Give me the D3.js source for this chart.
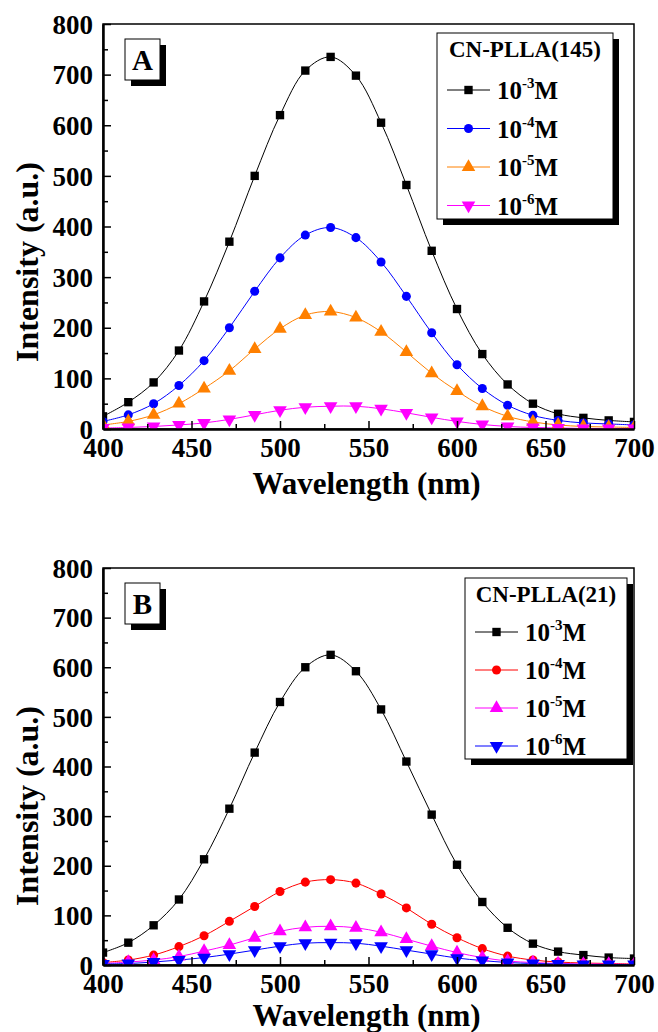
<!DOCTYPE html>
<html>
<head>
<meta charset="utf-8">
<script src="https://cdn.jsdelivr.net/npm/d3@7"></script>
<style>
  body { margin: 0; background: #fff; }
</style>
</head>
<body>
<svg id="chart" width="658" height="1032"></svg>
<script>
// wavelengths of the measured points (nm)
var wavelengths = [400, 414.3, 428.6, 442.9, 457.1, 471.4, 485.7, 500, 514.3, 528.6, 542.9,
  557.1, 571.4, 585.7, 600, 614.3, 628.6, 642.9, 657.1, 671.4, 685.7, 700];

// panel A : CN-PLLA(145)
var a3 = [25, 53, 92, 155, 252, 370, 500, 620, 708, 735, 698, 605, 482, 352, 237, 148, 88, 50, 30, 22, 17, 14];
var a4 = [15, 28, 50, 86, 135, 200, 272, 338, 383, 398, 378, 330, 262, 190, 127, 80, 47, 27, 17, 12, 10, 8];
var a5 = [8, 15, 28, 50, 80, 115, 158, 198, 225, 232, 220, 192, 152, 110, 75, 45, 25, 14, 8, 5, 4, 3];
var a6 = [2, 3, 5, 8, 12, 19, 28, 37, 43, 45, 45, 40, 32, 23, 15, 9, 5, 3, 2, 1, 1, 1];

// panel B : CN-PLLA(21)
var b3 = [25, 45, 80, 132, 213, 315, 428, 530, 600, 625, 592, 515, 410, 303, 202, 127, 75, 43, 27, 20, 15, 13];
var b4 = [5, 10, 20, 37, 59, 88, 118, 148, 167, 172, 165, 143, 115, 82, 55, 33, 18, 10, 6, 4, 3, 2];
var b5 = [3, 6, 10, 17, 28, 40, 55, 68, 76, 78, 75, 66, 52, 38, 25, 15, 8, 5, 3, 2, 2, 1];
var b6 = [2, 3, 6, 10, 15, 22, 30, 38, 44, 45, 44, 38, 30, 22, 14, 9, 5, 3, 2, 1, 1, 1];

var xTicks = [400, 450, 500, 550, 600, 650, 700];
var yTicks = [0, 100, 200, 300, 400, 500, 600, 700, 800];
var legendLabels = ['-3', '-4', '-5', '-6'];

var FONT = "'Liberation Serif', 'Times New Roman', Times, serif";

var panels = [
  { tag: 'A', title: 'CN-PLLA(145)', top: 24, bottom: 429, titleGap: 65,
    series: [
      { data: a3, color: '#000000', marker: 'square' },
      { data: a4, color: '#0000ff', marker: 'circle' },
      { data: a5, color: '#ff8000', marker: 'triangle' },
      { data: a6, color: '#ff00ff', marker: 'triangleDown' }
    ],
    legend: { x: 437, y: 33, w: 176, h: 186, first: 57, step: 38.5 } },
  { tag: 'B', title: 'CN-PLLA(21)', top: 568, bottom: 965, titleGap: 61,
    series: [
      { data: b3, color: '#000000', marker: 'square' },
      { data: b4, color: '#ff0000', marker: 'circle' },
      { data: b5, color: '#ff00ff', marker: 'triangle' },
      { data: b6, color: '#0000ff', marker: 'triangleDown' }
    ],
    legend: { x: 465, y: 578, w: 162, h: 181, first: 54, step: 38 } }
];

var left = 103, right = 634;
var svg = d3.select('#chart');

var symbols = {
  square: d3.symbol().type(d3.symbolSquare).size(70),
  circle: d3.symbol().type(d3.symbolCircle).size(64),
  triangle: d3.symbol().type(d3.symbolTriangle).size(80),
  triangleDown: d3.symbol().type(d3.symbolTriangle).size(80)
};

var drawMarker = function(g, kind, color, x, y) {
  g.append('path')
    .attr('d', symbols[kind]())
    .attr('transform', 'translate(' + x + ',' + y + ')' + (kind === 'triangleDown' ? ' rotate(180)' : ''))
    .attr('fill', color);
};

var shadowBox = function(g, x, y, w, h, off) {
  g.append('rect').attr('x', x + off).attr('y', y + off).attr('width', w).attr('height', h).attr('fill', '#000');
  g.append('rect').attr('x', x).attr('y', y).attr('width', w).attr('height', h)
    .attr('fill', '#fff').attr('stroke', '#000').attr('stroke-width', 1);
};

var label = function(g) {
  return g.append('text').attr('font-family', FONT).attr('font-weight', 'bold').attr('fill', '#000');
};

panels.forEach(function(p) {
  var x = d3.scaleLinear().domain([400, 700]).range([left, right]);
  var y = d3.scaleLinear().domain([0, 800]).range([p.bottom, p.top]);
  var g = svg.append('g');

  // clip so curves stay in the frame
  var clipId = 'clip' + p.tag;
  g.append('clipPath').attr('id', clipId).append('rect')
    .attr('x', left).attr('y', p.top).attr('width', right - left).attr('height', p.bottom - p.top);

  // frame
  g.append('rect').attr('x', left).attr('y', p.top).attr('width', right - left).attr('height', p.bottom - p.top)
    .attr('fill', 'none').attr('stroke', '#000').attr('stroke-width', 1.5);

  // curves and markers
  var line = d3.line()
    .x(function(d, i) { return x(wavelengths[i]); })
    .y(function(d) { return y(d); })
    .curve(d3.curveCatmullRom.alpha(0.5));

  var plot = g.append('g').attr('clip-path', 'url(#' + clipId + ')');
  p.series.forEach(function(s) {
    plot.append('path').datum(s.data).attr('d', line)
      .attr('fill', 'none').attr('stroke', s.color).attr('stroke-width', 1);
  });
  p.series.forEach(function(s) {
    s.data.forEach(function(v, i) {
      drawMarker(plot, s.marker, s.color, x(wavelengths[i]), y(v));
    });
  });

  // axes with inward ticks
  var xAxis = d3.axisBottom(x).tickValues(d3.range(400, 701, 25)).tickSize(-7).tickSizeOuter(0)
    .tickFormat(function(d) { return xTicks.indexOf(d) >= 0 ? d : ''; });
  var gx = g.append('g').attr('transform', 'translate(0,' + p.bottom + ')').call(xAxis);
  gx.attr('font-family', FONT).attr('font-weight', 'bold');
  gx.selectAll('.tick line').attr('stroke-width', 1.5)
    .attr('y2', function(d) { return xTicks.indexOf(d) >= 0 ? -8 : -5; });
  gx.selectAll('.tick text').attr('font-size', 27).attr('fill', '#000').attr('dy', '0.72em').attr('y', 9);
  gx.select('.domain').attr('stroke-width', 2.5);

  var yAxis = d3.axisLeft(y).tickValues(d3.range(0, 801, 50)).tickSize(-7).tickSizeOuter(0)
    .tickFormat(function(d) { return yTicks.indexOf(d) >= 0 ? d : ''; });
  var gy = g.append('g').attr('transform', 'translate(' + left + ',0)').call(yAxis);
  gy.attr('font-family', FONT).attr('font-weight', 'bold');
  gy.selectAll('.tick line').attr('stroke-width', 1.5)
    .attr('x2', function(d) { return yTicks.indexOf(d) >= 0 ? 8 : 5; });
  gy.selectAll('.tick text').attr('font-size', 27).attr('fill', '#000').attr('x', -10).attr('dy', '0.34em');
  gy.select('.domain').attr('stroke-width', 2.5);

  // axis titles
  label(g).attr('x', (left + right) / 2 - 2).attr('y', p.bottom + p.titleGap)
    .attr('text-anchor', 'middle').attr('font-size', 31).text('Wavelength (nm)');
  label(g).attr('transform', 'translate(38,' + (p.top + 238) + ') rotate(-90)')
    .attr('text-anchor', 'middle').attr('font-size', 32).text('Intensity (a.u.)');

  // panel tag
  shadowBox(g, 125, p.top + 15, 35, 41, 6);
  label(g).attr('x', 142.5).attr('y', p.top + 46).attr('text-anchor', 'middle')
    .attr('font-size', 29).text(p.tag);

  // legend
  var L = p.legend;
  shadowBox(g, L.x, L.y, L.w, L.h, 6);
  label(g).attr('x', L.x + L.w / 2).attr('y', L.y + 24).attr('text-anchor', 'middle')
    .attr('font-size', 23).text(p.title);
  p.series.forEach(function(s, i) {
    var ly = L.y + L.first + i * L.step;
    g.append('line').attr('x1', L.x + 10).attr('x2', L.x + 53).attr('y1', ly).attr('y2', ly)
      .attr('stroke', s.color).attr('stroke-width', 1);
    drawMarker(g, s.marker, s.color, L.x + 31.5, ly);
    var t = label(g).attr('x', L.x + 60).attr('y', ly + 9).attr('font-size', 25);
    t.append('tspan').text('10');
    t.append('tspan').attr('font-size', 15).attr('dy', -11).text(legendLabels[i]);
    t.append('tspan').attr('dy', 11).text('M');
  });
});
</script>
</body>
</html>
